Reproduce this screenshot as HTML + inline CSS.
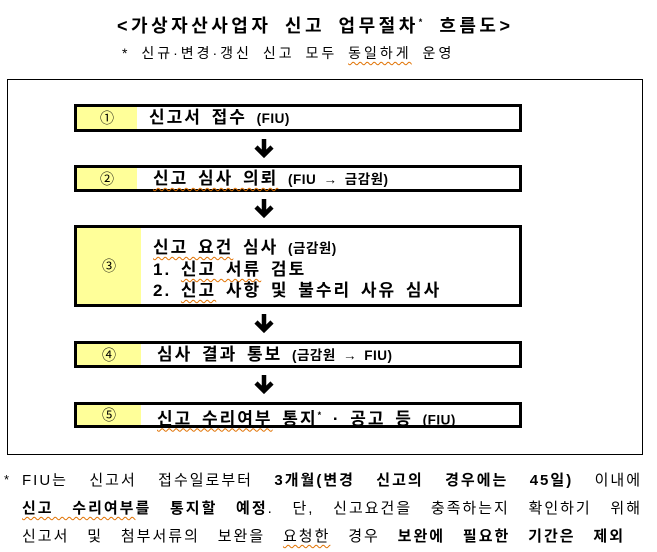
<!DOCTYPE html>
<html><head><meta charset="utf-8"><style>
body{margin:0;width:657px;height:552px;background:#fff;position:relative;font-family:"Liberation Sans","Noto Sans CJK KR","NanumGothic",sans-serif;color:#000;overflow:hidden}
.a{position:absolute;white-space:nowrap}
.frame{position:absolute;left:7px;top:79px;width:634px;height:374px;border:1px solid #000}
.box{position:absolute;left:74px;width:442px;border:3px solid #000;background:#fff}
.y{position:absolute;left:0;top:0;bottom:0;width:60px;background:#ffff99;font-size:14px;line-height:14px;display:flex;align-items:center;justify-content:center}
.t{position:absolute;left:72px;font-size:17px;line-height:20px;font-weight:bold;letter-spacing:2px;word-spacing:3px;white-space:nowrap}
.s{font-size:13.5px;letter-spacing:0.5px}
.arr{position:absolute;left:253px}
.u{text-decoration:underline wavy #e07000 1px;text-underline-offset:3px}
.f{position:absolute;left:22px;width:620px;font-size:15px;line-height:18px;letter-spacing:2px;text-align:justify;text-align-last:justify;white-space:nowrap}
</style></head><body>
<div class="a" style="left:117px;top:11px;font-size:18px;line-height:22px;font-weight:bold;letter-spacing:3.5px;word-spacing:5px">&lt;가상자산사업자 신고 업무절차<sup style="font-size:9px">*</sup> 흐름도&gt;</div>
<div class="a" style="left:122px;top:44px;font-size:14px;line-height:18px;letter-spacing:3px;word-spacing:4px">* 신규·변경·갱신 신고 모두 <span class="u">동일하게</span> 운영</div>
<div class="frame"></div>

<div class="box" style="top:104px;height:22px"><div class="y">①</div><div class="t" style="top:1px">신고서 접수 <span class="s">(FIU)</span></div></div>
<div class="box" style="top:165px;height:21px"><div class="y">②</div><div class="t" style="top:1px;left:76px"><span class="u">신고 심사 의뢰</span> <span class="s">(FIU → 금감원)</span></div></div>
<div class="box" style="top:225px;height:76px"><div class="y" style="width:64px">③</div>
<div class="t" style="top:9px;left:76px;line-height:21px"><span class="u">신고 요건</span> 심사 <span class="s">(금감원)</span><br>1. <span class="u">신고 서류</span> 검토<br>2. <span class="u">신고</span> 사항 및 불수리 사유 심사</div></div>
<div class="box" style="top:341px;height:21px"><div class="y" style="width:64px">④</div><div class="t" style="top:1px;left:80px">심사 결과 통보 <span class="s">(금감원 → FIU)</span></div></div>
<div class="box" style="top:402px;height:20px"><div class="y" style="width:64px">⑤</div><div class="t" style="top:0px;left:80px"><span class="u">신고 수리여부</span> 통지<sup style="font-size:9px">*</sup> · 공고 등 <span class="s">(FIU)</span></div></div>

<svg class="arr" style="top:139px" width="22" height="20"><path d="M11 0V14M3 8L11 16L19 8" stroke="#000" stroke-width="4.5" fill="none"/></svg>
<svg class="arr" style="top:199px" width="22" height="20"><path d="M11 0V14M3 8L11 16L19 8" stroke="#000" stroke-width="4.5" fill="none"/></svg>
<svg class="arr" style="top:314px" width="22" height="20"><path d="M11 0V14M3 8L11 16L19 8" stroke="#000" stroke-width="4.5" fill="none"/></svg>
<svg class="arr" style="top:375px" width="22" height="20"><path d="M11 0V14M3 8L11 16L19 8" stroke="#000" stroke-width="4.5" fill="none"/></svg>

<div class="a" style="left:4px;top:472px;font-size:13px">*</div>
<div class="f" style="top:472px">FIU는 신고서 접수일로부터 <b>3개월(변경 신고의 경우에는 45일)</b> 이내에</div>
<div class="f" style="top:500px"><b><span class="u">신고 수리여부</span>를 통지할 예정</b>. 단, 신고요건을 충족하는지 확인하기 위해</div>
<div class="f" style="top:528px;width:603px">신고서 및 첨부서류의 보완을 <span class="u">요청한</span> 경우 <b>보완에 필요한 기간은 제외</b></div>
</body></html>
